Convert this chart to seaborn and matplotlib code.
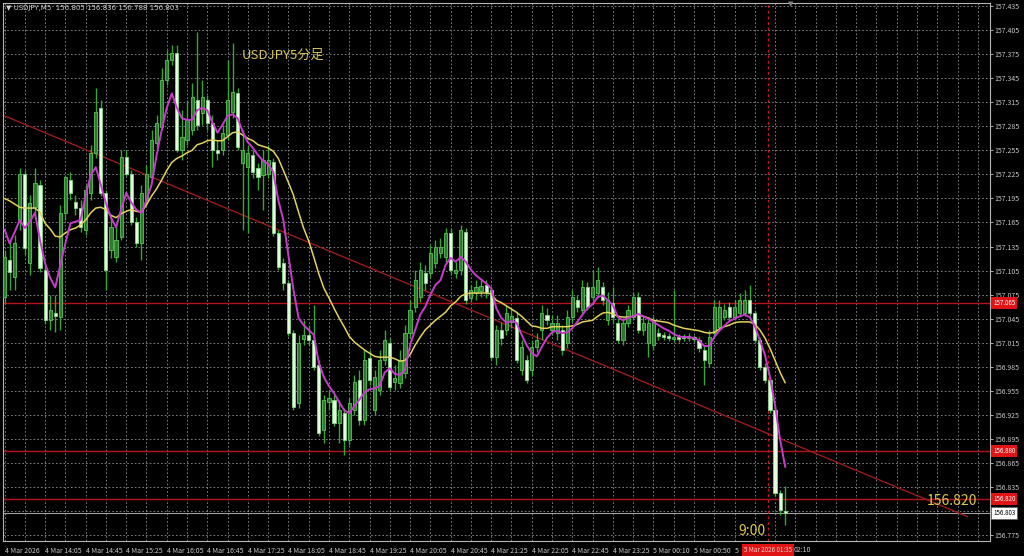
import numpy as np
import pandas as pd
import seaborn as sns
import matplotlib.pyplot as plt

# USDJPY M5 candles (oldest first)
opens = [157.072, 157.118, 157.097, 157.168, 157.226, 157.114, 157.184, 157.212, 157.106, 157.043,
         157.052, 157.047, 157.177, 157.218, 157.190, 157.183, 157.156, 157.202, 157.252, 157.308,
         157.202, 157.131, 157.122, 157.147, 157.247, 157.226, 157.166, 157.139, 157.193, 157.222,
         157.264, 157.284, 157.343, 157.368, 157.376, 157.255, 157.268, 157.280, 157.318, 157.302,
         157.318, 157.289, 157.255, 157.255, 157.274, 157.303, 157.326, 157.239, 157.234, 157.249,
         157.233, 157.224, 157.226, 157.240, 157.152, 157.114, 157.089, 157.027, 156.940, 157.020,
         157.025, 157.018, 156.987, 156.906, 156.941, 156.944, 156.915, 156.927, 156.894, 156.931,
         156.968, 156.919, 156.996, 156.931, 156.956, 156.993, 157.015, 156.966, 156.965, 156.977,
         157.027, 157.060, 157.072, 157.102, 157.102, 157.114, 157.127, 157.122, 157.152, 157.102,
         157.106, 157.153, 157.071, 157.077, 157.079, 157.087, 157.081, 156.997, 157.031, 157.031,
         157.041, 157.046, 156.981, 156.993, 156.981, 157.010, 157.031, 157.050, 157.031, 157.027,
         157.031, 157.015, 157.047, 157.068, 157.056, 157.084, 157.072, 157.077, 157.084, 157.043,
         157.064, 157.040, 157.018, 157.040, 157.047, 157.072, 157.031, 157.015, 157.012, 157.027,
         157.025, 157.023, 157.020, 157.022, 157.023, 157.021, 157.022, 157.018, 157.006, 156.990,
         157.027, 157.035, 157.047, 157.060, 157.047, 157.052, 157.052, 157.068, 157.052, 157.018,
         156.985, 156.968, 156.931, 156.828, 156.805]
highs = [157.131, 157.143, 157.149, 157.233, 157.230, 157.199, 157.233, 157.218, 157.112, 157.074,
         157.074, 157.187, 157.224, 157.228, 157.199, 157.193, 157.212, 157.262, 157.333, 157.318,
         157.205, 157.174, 157.162, 157.255, 157.255, 157.230, 157.172, 157.212, 157.237, 157.280,
         157.299, 157.358, 157.380, 157.386, 157.386, 157.305, 157.318, 157.339, 157.403, 157.343,
         157.324, 157.299, 157.268, 157.287, 157.368, 157.389, 157.333, 157.280, 157.262, 157.255,
         157.239, 157.255, 157.262, 157.245, 157.156, 157.121, 157.093, 157.031, 157.025, 157.043,
         157.037, 157.062, 156.993, 156.950, 156.956, 156.950, 156.944, 156.934, 156.946, 156.975,
         156.981, 157.006, 157.006, 156.981, 157.006, 157.031, 157.021, 156.987, 157.006, 157.037,
         157.068, 157.106, 157.116, 157.112, 157.137, 157.143, 157.146, 157.158, 157.158, 157.116,
         157.162, 157.158, 157.087, 157.093, 157.093, 157.093, 157.084, 157.037, 157.041, 157.062,
         157.058, 157.053, 157.018, 157.000, 157.018, 157.027, 157.062, 157.058, 157.050, 157.050,
         157.037, 157.056, 157.081, 157.074, 157.093, 157.091, 157.106, 157.109, 157.091, 157.078,
         157.084, 157.046, 157.046, 157.062, 157.078, 157.078, 157.048, 157.046, 157.048, 157.033,
         157.028, 157.027, 157.081, 157.026, 157.026, 157.027, 157.025, 157.022, 157.011, 157.031,
         157.068, 157.068, 157.063, 157.066, 157.068, 157.077, 157.081, 157.087, 157.056, 157.022,
         156.990, 156.972, 156.937, 156.831, 156.836]
lows = [157.064, 157.081, 157.081, 157.156, 157.124, 157.099, 157.174, 157.103, 157.039, 157.031,
        157.028, 157.031, 157.168, 157.193, 157.174, 157.153, 157.149, 157.193, 157.245, 157.198,
        157.081, 157.121, 157.116, 157.143, 157.223, 157.162, 157.134, 157.118, 157.187, 157.218,
        157.258, 157.280, 157.336, 157.361, 157.253, 157.243, 157.262, 157.274, 157.280, 157.287,
        157.280, 157.234, 157.243, 157.249, 157.268, 157.295, 157.255, 157.156, 157.152, 157.220,
        157.205, 157.181, 157.220, 157.148, 157.106, 157.081, 157.023, 156.931, 156.934, 157.012,
        157.012, 156.981, 156.899, 156.890, 156.931, 156.911, 156.890, 156.875, 156.887, 156.925,
        156.912, 156.912, 156.962, 156.925, 156.950, 156.987, 156.956, 156.956, 156.958, 156.971,
        157.021, 157.053, 157.066, 157.081, 157.096, 157.108, 157.121, 157.116, 157.099, 157.096,
        157.099, 157.063, 157.066, 157.068, 157.072, 157.071, 156.993, 156.987, 157.012, 157.025,
        157.033, 156.990, 156.975, 156.965, 156.974, 157.003, 157.018, 157.037, 157.025, 157.018,
        157.000, 157.008, 157.041, 157.053, 157.051, 157.056, 157.068, 157.071, 157.062, 157.037,
        157.039, 157.015, 157.012, 157.035, 157.043, 157.027, 157.025, 156.997, 157.006, 157.018,
        157.018, 157.017, 157.016, 157.016, 157.017, 157.017, 157.016, 157.003, 156.962, 156.985,
        157.023, 157.031, 157.043, 157.043, 157.043, 157.047, 157.048, 157.048, 157.015, 156.981,
        156.965, 156.927, 156.824, 156.800, 156.788]
closes = [157.122, 157.103, 157.139, 157.226, 157.133, 157.189, 157.214, 157.108, 157.043, 157.056,
          157.048, 157.177, 157.222, 157.202, 157.183, 157.159, 157.205, 157.252, 157.303, 157.202,
          157.106, 157.159, 157.143, 157.247, 157.226, 157.166, 157.139, 157.202, 157.226, 157.268,
          157.289, 157.343, 157.368, 157.376, 157.255, 157.272, 157.293, 157.322, 157.287, 157.322,
          157.289, 157.255, 157.252, 157.277, 157.318, 157.328, 157.259, 157.255, 157.252, 157.228,
          157.222, 157.243, 157.243, 157.152, 157.109, 157.089, 157.027, 156.935, 157.015, 157.025,
          157.018, 156.985, 156.902, 156.944, 156.946, 156.915, 156.931, 156.894, 156.940, 156.966,
          156.919, 156.993, 156.968, 156.972, 156.993, 157.018, 156.960, 156.971, 156.993, 157.027,
          157.056, 157.093, 157.106, 157.089, 157.127, 157.134, 157.134, 157.152, 157.106, 157.106,
          157.156, 157.068, 157.081, 157.084, 157.086, 157.078, 156.997, 157.031, 157.021, 157.052,
          157.048, 156.993, 157.010, 156.968, 157.010, 157.018, 157.052, 157.043, 157.040, 157.040,
          157.006, 157.047, 157.072, 157.060, 157.084, 157.060, 157.084, 157.093, 157.068, 157.068,
          157.047, 157.018, 157.040, 157.056, 157.072, 157.031, 157.040, 157.040, 157.043, 157.023,
          157.022, 157.021, 157.022, 157.020, 157.021, 157.023, 157.020, 157.008, 156.993, 157.022,
          157.060, 157.060, 157.056, 157.047, 157.060, 157.068, 157.068, 157.052, 157.018, 156.985,
          156.968, 156.931, 156.828, 156.806, 156.803]

# moving averages as drawn (magenta fast, yellow slow)
ma_fast = [157.156, 157.139, 157.153, 157.168, 157.158, 157.166, 157.177, 157.143, 157.114, 157.096,
           157.084, 157.112, 157.139, 157.164, 157.166, 157.168, 157.199, 157.224, 157.234, 157.212,
           157.189, 157.171, 157.159, 157.181, 157.202, 157.190, 157.181, 157.177, 157.193, 157.212,
           157.249, 157.280, 157.308, 157.326, 157.308, 157.295, 157.293, 157.293, 157.305, 157.308,
           157.305, 157.290, 157.277, 157.287, 157.298, 157.300, 157.295, 157.278, 157.265, 157.258,
           157.249, 157.242, 157.238, 157.228, 157.193, 157.168, 157.124, 157.081, 157.046, 157.037,
           157.031, 157.025, 156.990, 156.972, 156.961, 156.952, 156.941, 156.931, 156.927, 156.936,
           156.944, 156.953, 156.957, 156.958, 156.961, 156.978, 156.983, 156.976, 156.975, 156.981,
           157.012, 157.031, 157.050, 157.060, 157.075, 157.087, 157.093, 157.112, 157.121, 157.116,
           157.122, 157.116, 157.106, 157.099, 157.094, 157.089, 157.083, 157.058, 157.046, 157.040,
           157.042, 157.040, 157.025, 157.012, 157.002, 156.998, 157.010, 157.021, 157.028, 157.030,
           157.027, 157.028, 157.033, 157.041, 157.050, 157.058, 157.063, 157.072, 157.074, 157.068,
           157.062, 157.047, 157.043, 157.046, 157.048, 157.051, 157.048, 157.045, 157.041, 157.037,
           157.033, 157.030, 157.026, 157.023, 157.022, 157.022, 157.021, 157.018, 157.011, 157.011,
           157.022, 157.030, 157.036, 157.042, 157.045, 157.048, 157.050, 157.047, 157.036, 157.018,
           157.000, 156.972, 156.937, 156.894, 156.860]
ma_slow = [157.195, 157.192, 157.188, 157.184, 157.183, 157.183, 157.183, 157.178, 157.164, 157.157,
           157.148, 157.147, 157.152, 157.156, 157.158, 157.162, 157.168, 157.177, 157.183, 157.184,
           157.181, 157.174, 157.171, 157.176, 157.179, 157.181, 157.179, 157.178, 157.187, 157.198,
           157.207, 157.218, 157.230, 157.240, 157.245, 157.248, 157.252, 157.255, 157.262, 157.264,
           157.267, 157.268, 157.267, 157.267, 157.272, 157.277, 157.278, 157.274, 157.270, 157.267,
           157.262, 157.260, 157.258, 157.254, 157.245, 157.230, 157.215, 157.199, 157.178, 157.158,
           157.142, 157.122, 157.101, 157.083, 157.071, 157.058, 157.046, 157.035, 157.023, 157.016,
           157.011, 157.006, 157.002, 156.998, 156.997, 156.997, 156.997, 156.995, 156.992, 156.993,
           157.000, 157.012, 157.022, 157.031, 157.037, 157.043, 157.048, 157.053, 157.061, 157.066,
           157.073, 157.076, 157.077, 157.077, 157.077, 157.077, 157.076, 157.068, 157.065, 157.061,
           157.057, 157.053, 157.048, 157.042, 157.036, 157.035, 157.033, 157.033, 157.035, 157.035,
           157.035, 157.035, 157.036, 157.038, 157.041, 157.042, 157.043, 157.048, 157.052, 157.053,
           157.051, 157.048, 157.047, 157.047, 157.048, 157.050, 157.048, 157.046, 157.043, 157.042,
           157.041, 157.040, 157.037, 157.035, 157.033, 157.032, 157.031, 157.030, 157.028, 157.027,
           157.028, 157.032, 157.035, 157.037, 157.040, 157.041, 157.041, 157.041, 157.038, 157.031,
           157.021, 157.008, 156.993, 156.978, 156.965]

# x-axis labels every 8 bars; the last two are partly hidden by the crosshair tag
time_labels = ['4 Mar 2026', '4 Mar 14:05', '4 Mar 14:45', '4 Mar 15:25', '4 Mar 16:05',
               '4 Mar 16:45', '4 Mar 17:25', '4 Mar 18:05', '4 Mar 18:45', '4 Mar 19:25',
               '4 Mar 20:05', '4 Mar 20:45', '4 Mar 21:25', '4 Mar 22:05', '4 Mar 22:45',
               '4 Mar 23:25', '5 Mar 00:10', '5 Mar 00:50', '5', '']
tail_label = '02:10'
tail_label_idx = 155.7
price_ticks = [157.435, 157.405, 157.375, 157.345, 157.315, 157.285, 157.255, 157.225,
               157.195, 157.165, 157.135, 157.105, 157.075, 157.045, 157.015, 156.985,
               156.955, 156.925, 156.895, 156.865, 156.835, 156.805, 156.775]
red_levels = [157.065, 156.880, 156.820]
last_price = 156.803
trend_idx = [0, 190]
trend_price = [157.298, 156.798]
crosshair_idx = 150.6
crosshair_label = '5 Mar 2026 01:35'

df = pd.DataFrame({'o': opens, 'h': highs, 'l': lows, 'c': closes,
                   'fast': ma_fast, 'slow': ma_slow})
df['idx'] = np.arange(len(df))

sns.set_theme(style='dark', rc={'axes.facecolor': 'black', 'figure.facecolor': 'black'})
plt.rcParams['font.family'] = ['Noto Sans CJK JP', 'DejaVu Sans']

fig = plt.figure(figsize=(10.24, 5.56), dpi=100, facecolor='black')
ax = fig.add_axes([3 / 1024, 15 / 556, 987 / 1024, 538 / 556])
ax.set_facecolor('black')

# grid
grid_kw = dict(color='#8c9199', linestyle=(0, (2, 2.5)), linewidth=0.6)
ax.set_yticks(price_ticks)
# 156.805 sits under the current-price tag, so its label is not shown
ax.set_yticklabels(['' if abs(p - 156.805) < 1e-6 else f'{p:.3f}' for p in price_ticks])
ax.set_xticks(np.arange(0, len(time_labels) * 8, 8))
ax.set_xticklabels(time_labels, ha='left')
ax.set_xticks(np.arange(0, 196, 4), minor=True)
ax.grid(True, which='both', axis='x', **grid_kw)
ax.grid(True, which='major', axis='y', **grid_kw)
ax.set_axisbelow(True)

# horizontal / trend lines
for lv in red_levels:
    ax.axhline(lv, color='#b3141a', lw=1.0, zorder=2)
ax.axhline(last_price, color='#a0a0a0', lw=0.8, zorder=2)
ax.plot(trend_idx, trend_price, color='#9a1c1c', lw=1.0, zorder=2)
ax.axvline(crosshair_idx, color='#c0181c', lw=1.0, linestyle=(0, (2, 2)), zorder=2)

# candles
o = df['o'].values
c = df['c'].values
x = df['idx'].values
bull = c >= o
ax.vlines(x, df['l'], df['h'], color='#37a637', lw=1.0, zorder=3)
body = np.maximum(np.abs(c - o), 0.0012)
ax.bar(x[bull], body[bull], bottom=np.minimum(o, c)[bull], width=0.62,
       color='#2c7a2c', edgecolor='#55c455', linewidth=0.6, zorder=4)
ax.bar(x[~bull], body[~bull], bottom=np.minimum(o, c)[~bull], width=0.62,
       color='#e4fbe0', edgecolor='#86d886', linewidth=0.6, zorder=4)

# moving averages
sns.lineplot(data=df, x='idx', y='slow', color='#e3d25c', lw=1.1, ax=ax, zorder=5)
sns.lineplot(data=df, x='idx', y='fast', color='#c83ccd', lw=1.4, ax=ax, zorder=6)
ax.set_xlabel('')
ax.set_ylabel('')

ax.set_xlim(-0.3, 194.4)
ax.set_ylim(156.7677, 157.4388)

# axes look
ax.yaxis.tick_right()
ax.tick_params(axis='y', labelsize=5, colors='#c8c8c8', length=2, pad=1.5, width=0.6)
ax.tick_params(axis='x', which='major', labelsize=5, colors='#c8c8c8', length=2, pad=2, width=0.6)
ax.tick_params(axis='x', which='minor', length=0)
for s in ax.spines.values():
    s.set_color('#b4b4b4')
    s.set_linewidth(0.8)

# price tags on the right axis
ytr = ax.get_yaxis_transform()
for lv in red_levels:
    ax.text(1.003, lv, f'{lv:.3f}', transform=ytr, fontsize=4.5, color='white',
            va='center', ha='left', clip_on=False, zorder=10,
            bbox=dict(boxstyle='square,pad=0.3', fc='#e01414', ec='none'))
ax.text(1.003, last_price, f'{last_price:.3f}', transform=ytr, fontsize=4.5, color='black',
        va='center', ha='left', clip_on=False, zorder=10,
        bbox=dict(boxstyle='square,pad=0.3', fc='white', ec='#606060', lw=0.5))

# crosshair time tag and the visible tail of the hidden label
xtr = ax.get_xaxis_transform()
ax.text(crosshair_idx, -0.017, crosshair_label, transform=xtr, fontsize=4.5, color='#ffd0d0',
        va='center', ha='center', clip_on=False, zorder=10,
        bbox=dict(boxstyle='square,pad=0.35', fc='#e01414', ec='none'))
ax.text(tail_label_idx, -0.017, tail_label, transform=xtr, fontsize=5, color='#c8c8c8',
        va='center', ha='left', clip_on=False, zorder=10)

# annotations
ax.text(54.9, 157.374, 'USDJPY5分足', fontsize=9.5, color='#d8c45a', ha='center', va='center', zorder=8)
ax.text(186.9, 156.817, '156.820', fontsize=10, color='#e0c84a', ha='center', va='center', zorder=8)
ax.text(147.4, 156.780, '9:00', fontsize=10, color='#e0c84a', ha='center', va='center', zorder=8)

fig.text(6 / 1024, 1 - 8 / 556, '▼ USDJPY,M5  156.805 156.836 156.788 156.803',
         fontsize=5, color='#d0d0d0', va='center', ha='left', family=['DejaVu Sans'])
fig.text(791 / 1024, 1 - 4 / 556, '▼', fontsize=5, color='#808080', va='center', ha='center',
         family=['DejaVu Sans'])

fig.savefig('out.png', dpi=100, facecolor='black')
